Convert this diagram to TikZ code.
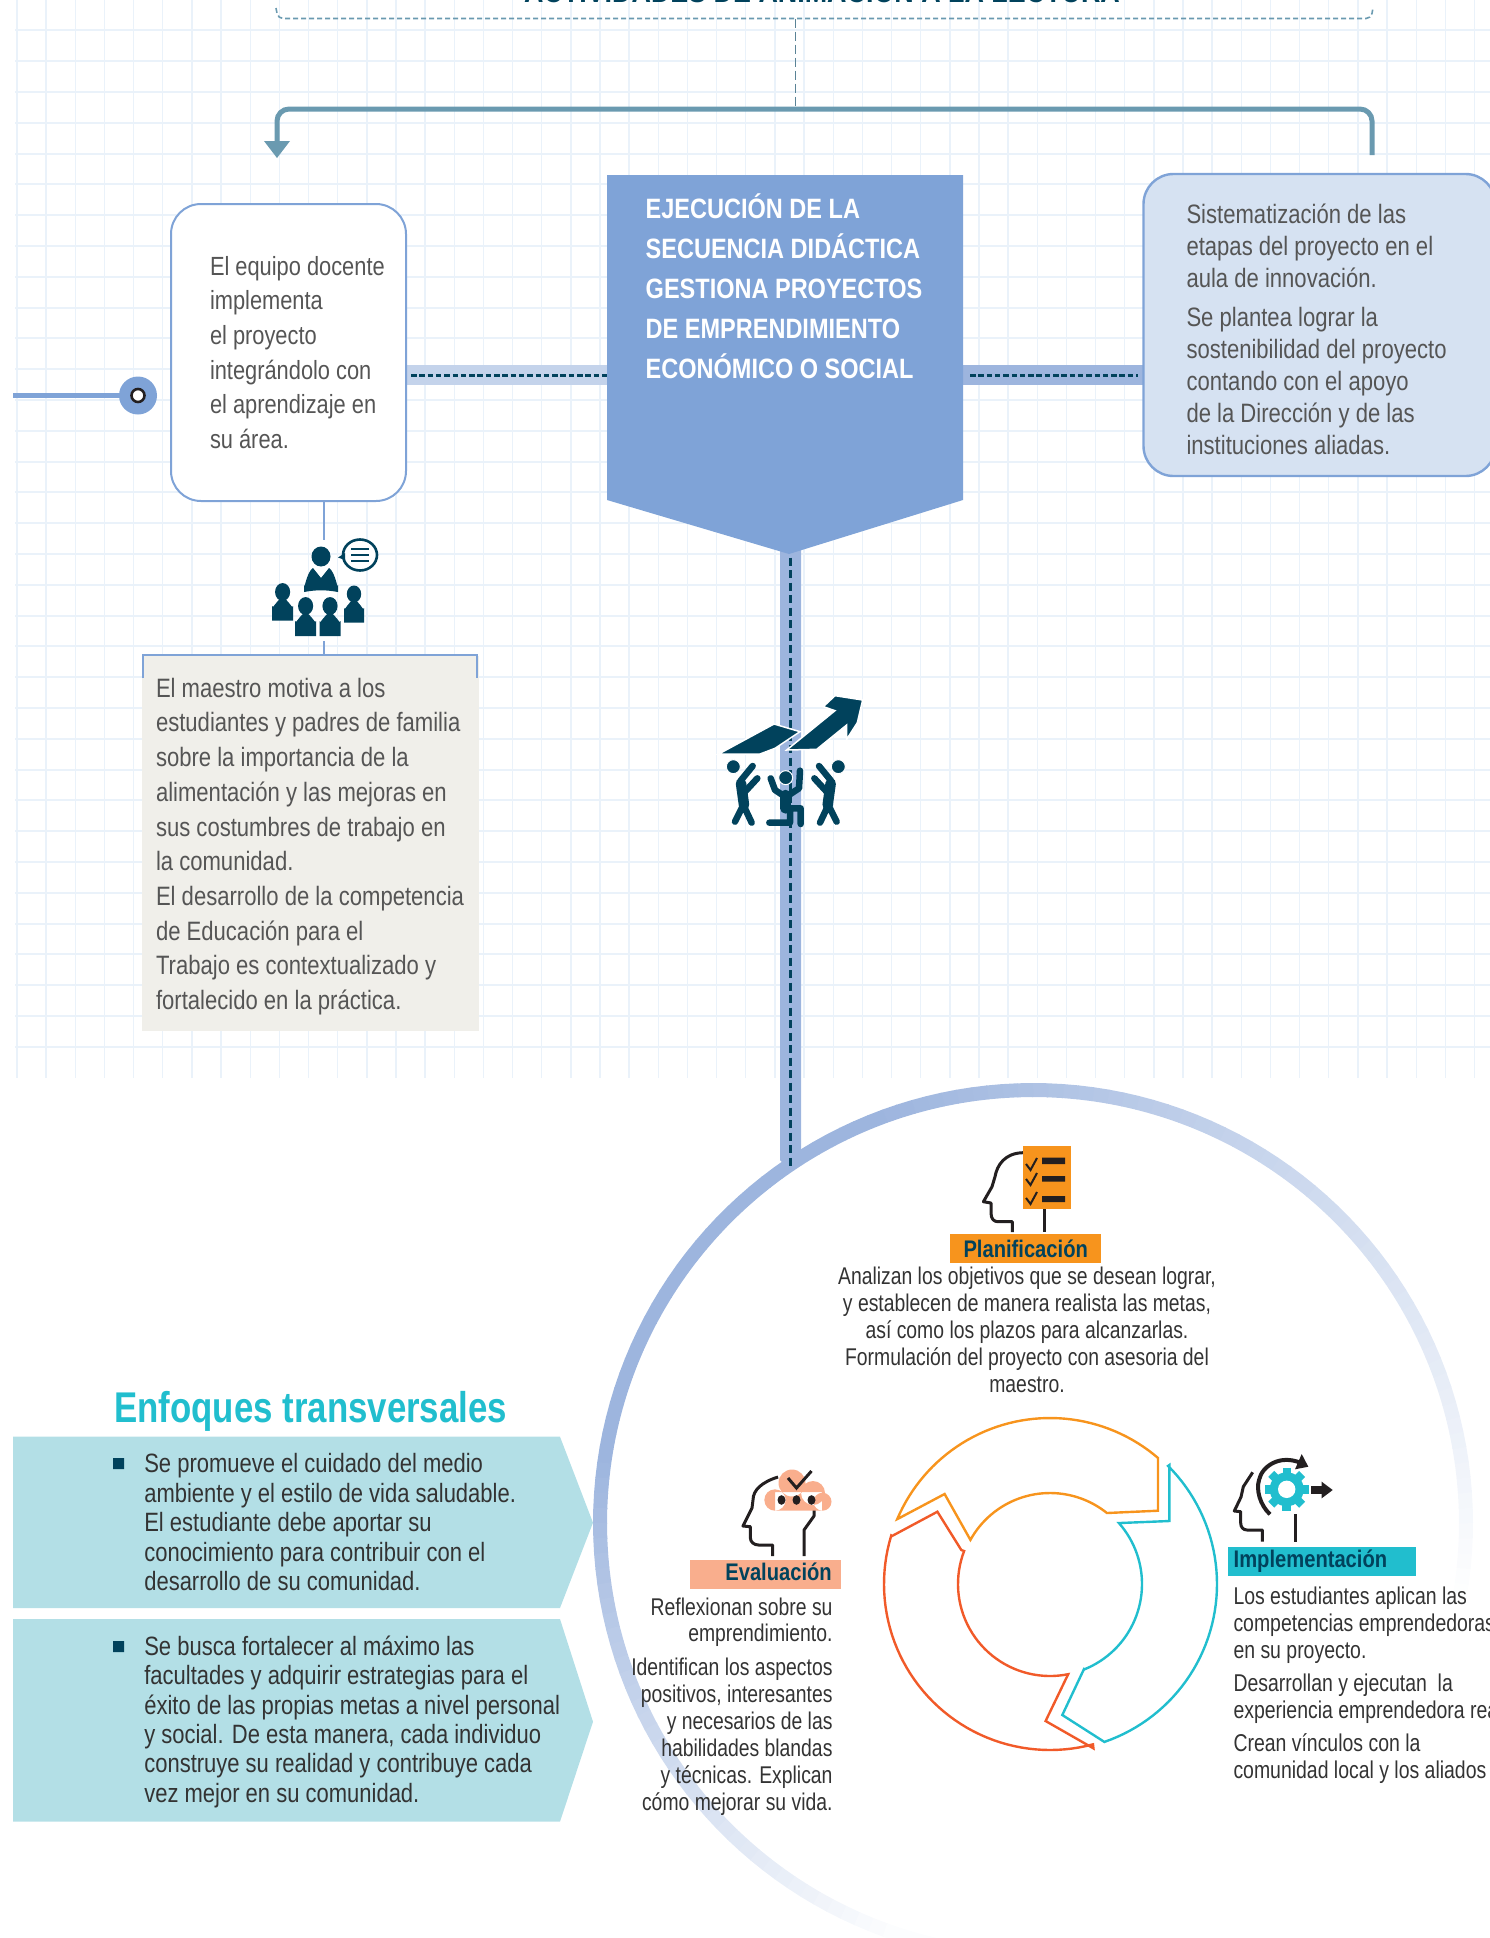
\documentclass[tikz,border=0pt]{standalone}
\usepackage{fontspec}
\usetikzlibrary{calc}
\setmainfont{Liberation Sans}
\newfontfamily\nbody[FakeStretch=0.80]{Liberation Sans}
\newfontfamily\nwide[FakeStretch=0.83]{Liberation Sans}
\newfontfamily\nbold[FakeStretch=0.84]{Liberation Sans}
\newfontfamily\ntitle[FakeStretch=0.81]{Liberation Sans}
\definecolor{gridc}{HTML}{EAF2FA}
\definecolor{boxblue}{HTML}{7FA3D7}
\definecolor{ringc}{HTML}{9DB5DE}
\definecolor{darkteal}{HTML}{01425C}
\definecolor{steel}{HTML}{6A9AB0}
\definecolor{txgray}{HTML}{555555}
\definecolor{txdark}{HTML}{333333}
\definecolor{orng}{HTML}{F7941D}
\definecolor{redor}{HTML}{F15A29}
\definecolor{tealc}{HTML}{21BECE}
\definecolor{salmon}{HTML}{F9AE8D}
\definecolor{pale}{HTML}{B3DFE6}
\definecolor{inkc}{HTML}{231F20}
\definecolor{greybox}{HTML}{F0EFEA}
\newcommand{\fs}[2]{\fontsize{#1}{#2}\selectfont}
\tikzset{
  body/.style={inner sep=0pt,outer sep=0pt},
  pent/.style={fill=pale,draw=none},
  iconline/.style={draw=inkc,line width=3pt,line join=round},
  cyc/.style={line width=2.4pt,line join=miter,fill=none},
  fig/.style={draw=darkteal,line cap=round,line join=round},
  labeltx/.style={inner sep=0pt,font={\nbold\bfseries\fs{24}{26}},text=darkteal}
}
\newcommand{\pers}[5]{% head x, head y, half-width, body top, body bottom
  \fill[darkteal] (#1,#2) ellipse ({#3*0.72} and {#3*0.85});
  \fill[darkteal] ({#1-#3},#5) -- ({#1-#3},{#4+8}) to[out=-90,in=180] (#1,#4) to[out=0,in=-90] ({#1+#3},{#4+8}) -- ({#1+#3},#5) -- cycle;
}
\begin{document}
\begin{tikzpicture}[x=1pt,y=-1pt]
\useasboundingbox (0,0) rectangle (1490,1938);
\clip (0,0) rectangle (1490,1938);
% grid
\foreach \k in {0,...,50}{\draw[gridc,line width=1.4pt] ({17+29.15*\k},0) -- ({17+29.15*\k},1078);}
\foreach \k in {0,...,33}{\draw[gridc,line width=2pt] (15,{30.4+30.8*\k}) -- (1490,{30.4+30.8*\k});}
% ring
\foreach \a in {-12,-10,...,258}{
  \pgfmathsetmacro\m{\a<110 ? (\a+12)/122*100 : (\a<170 ? 100 : max((252-\a)/82*100,3))}
  \draw[color=ringc!\m!white,line width=14pt] ({1033+433*cos(\a)},{1523-433*sin(\a)}) -- ({1033+433*cos(\a+2.1)},{1523-433*sin(\a+2.1)});
}
% top caption
\node[inner sep=0pt,anchor=base,font={\nbold\bfseries\fs{32}{34}},text=darkteal] (toptitle) at (822,2) {ACTIVIDADES DE ANIMACIÓN A LA LECTURA};
\draw[steel,dash pattern=on 5pt off 3pt,line width=1.6pt,rounded corners=5pt] (276,8) -- (278,18.5) -- (1371,18.5) -- (1373,8);
\coordinate (brk) at (795.6,18.5);
\coordinate (fork) at (795.6,109);
\coordinate (forkL) at (277,146);
\coordinate (forkR) at (1372,155);
\draw[steel!85!black,dash pattern=on 9pt off 4pt,line width=1.4pt] (brk) -- (fork);
\draw[steel,line width=5pt,rounded corners=12pt] (forkR) -- (1372,109) -- (277,109) -- (forkL);
\fill[steel] (264,141) -- (290,141) -- (277,158) -- cycle;
% left lead-in
\coordinate (leadL) at (13,395.5);
\node[circle,fill=boxblue,minimum size=38pt,inner sep=0pt] (dot) at (138,395.5) {};
\draw[boxblue,line width=5pt] (leadL) -- (dot);
\node[circle,fill=white,draw=inkc,line width=2.6pt,minimum size=13pt,inner sep=0pt] (dotin) at (138,395.5) {};
% horizontal connectors
\coordinate (c1) at (406,375); \coordinate (c2) at (607,375);
\coordinate (c3) at (963,375); \coordinate (c4) at (1145,375);
\draw[color=ringc!60!white,line width=20pt] (c1) -- (c2);
\draw[color=ringc,line width=20pt] (c3) -- (c4);
\draw[darkteal,line width=3pt,dash pattern=on 5.5pt off 2.8pt,shorten <=5pt] (c1) -- (c2);
\draw[darkteal,line width=3pt,dash pattern=on 5.5pt off 2.8pt,shorten <=7pt,shorten >=7pt] (c3) -- (c4);
% vertical main line
\coordinate (v1) at (790.5,545); \coordinate (v2) at (790.5,1160);
\fill[ringc] (780,545) -- (801,545) -- (801,1160) -- (790.5,1172) -- (780,1160) -- cycle;
\draw[darkteal,line width=2.5pt,dash pattern=on 8pt off 4.5pt] (v1) -- (790.5,1167);
% boxes
\node[draw=boxblue,fill=white,line width=2pt,rounded corners=30pt,minimum width=235pt,minimum height=297pt,inner sep=0pt] (lbox) at (288.5,352.5) {};
\node[draw=boxblue,fill=boxblue!32!white,line width=2.4pt,rounded corners=30pt,minimum width=352pt,minimum height=302pt,inner sep=0pt] (rbox) at (1319.5,325) {};
\fill[boxblue] (607,175) -- (963,175) -- (963,500) -- (789,554) -- (607,500) -- cycle;
% box texts
\node[body,anchor=north west,align=left,text=txgray,font={\nwide\fs{26.3}{34.7}}] (ltext) at (210,256) {El equipo docente\\implementa\\el proyecto\\integrándolo con\\el aprendizaje en\\su área.};
\node[inner sep=0pt,anchor=north west,align=left,text=white,font={\nbold\bfseries\fs{28}{40}}] (ctext) at (645.5,193.5) {EJECUCIÓN DE LA\\SECUENCIA DIDÁCTICA\\GESTIONA PROYECTOS\\DE EMPRENDIMIENTO\\ECONÓMICO O SOCIAL};
\node[body,anchor=north west,align=left,text=txgray,font={\nwide\fs{26.6}{32}}] (rtext) at (1186.5,203.5) {Sistematización de las\\etapas del proyecto en el\\aula de innovación.\\[7pt]Se plantea lograr la\\sostenibilidad del proyecto\\contando con el apoyo\\de la Dirección y de las\\instituciones aliadas.};
% teacher icon
\coordinate (lb1) at (323.5,501); \coordinate (lb2) at (323.5,540);
\coordinate (lb3) at (323.5,641); \coordinate (lb4) at (323.5,655);
\draw[boxblue,line width=2pt] (lb1) -- (lb2);
\draw[boxblue,line width=2pt] (lb3) -- (lb4);
\fill[darkteal] (321,556.5) ellipse (9.5 and 10);
\fill[darkteal] (304,592) -- (304,585) to[out=-90,in=-150] (313,568) -- (321,578) -- (329,568) to[out=-30,in=-90] (338,585) -- (338,592) to[out=170,in=10] (304,592) -- cycle;
\draw[darkteal,fill=white,line width=2.6pt] (360,555) ellipse (17 and 15.5);
\fill[darkteal] (345,553) -- (338,557.5) -- (345,560) -- cycle;
\foreach \yy in {549,555,561}{\draw[darkteal,line width=2.4pt] (351,\yy) -- (369,\yy);}
\pers{282.6}{592}{10.5}{598}{620.5}
\pers{354}{594}{10}{600}{622.5}
\pers{305.6}{606}{10.5}{613}{636}
\pers{330}{606}{10.5}{613}{636}
% grey box
\fill[greybox] (142,656) rectangle (478.6,1031);
\draw[boxblue,line width=2.4pt] (143,678) -- (143,655) -- (477,655) -- (477,678);
\node[body,anchor=north west,align=left,text=txgray,font={\nwide\fs{26.6}{34.7}}] (gtext) at (156,678) {El maestro motiva a los\\estudiantes y padres de familia\\sobre la importancia de la\\alimentación y las mejoras en\\sus costumbres de trabajo en\\la comunidad.\\El desarrollo de la competencia\\de Educación para el\\Trabajo es contextualizado y\\fortalecido en la práctica.};
% lifting icon
\begin{scope}[shift={(720,680)},scale=1/3]
\fill[darkteal,draw=white,line width=1.5pt] (-4,222) -- (162,132) -- (240,155) -- (165,205) -- (120,222) -- cycle;
\fill[darkteal,draw=white,line width=1.5pt] (200,210) -- (345,92) -- (310,80) -- (345,47) -- (428,60) -- (412,128) -- (380,178) -- (380,135) -- (290,208) -- cycle;
\fill[darkteal,draw=white,line width=1pt] (40,260) circle (21);
\draw[fig,line width=10.5pt] (63,310) -- (72,375);
\draw[fig,line width=6.5pt] (70,375) -- (45,425) (70,375) -- (95,428) (62,302) -- (98,258) (75,335) -- (112,295);
\fill[darkteal,draw=white,line width=1pt] (355,260) circle (21);
\draw[fig,line width=10.5pt] (332,310) -- (323,375);
\draw[fig,line width=6.5pt] (325,375) -- (350,425) (325,375) -- (300,428) (333,302) -- (297,258) (320,335) -- (283,295);
\fill[darkteal,draw=white,line width=1pt] (197,293) circle (21);
\draw[fig,line width=10.5pt] (197,345) -- (197,385);
\draw[fig,line width=6.5pt] (152,295) -- (165,330) -- (192,348) (240,272) -- (237,325) -- (202,348) (197,390) -- (210,385) -- (210,428) -- (148,428) (197,385) -- (242,385) -- (242,432);
\end{scope}
% Planificación
\draw[iconline] (1023,1152.7) .. controls (1005,1153) and (997,1165) .. (995,1176.7) -- (992,1186.7) -- (983.4,1201.7) -- (991,1203) -- (991,1213) .. controls (991,1219) and (994,1221.7) .. (998,1221.7) -- (1012.4,1221.7) -- (1012.4,1232);
\fill[orng] (1022.8,1146) rectangle (1071,1209);
\foreach \yy in {1165,1180,1199}{\draw[inkc,line width=2pt] (1026,{\yy-1}) -- (1030.5,{\yy+5}) -- (1037,{\yy-7});}
\fill[inkc] (1042,1157.7) rectangle (1065,1164) (1042,1176) rectangle (1065,1181.7) (1042,1196) rectangle (1065,1202);
\draw[iconline] (1044.3,1209) -- (1044.3,1232);
\node[fill=orng,minimum width=150.7pt,minimum height=28.7pt,inner sep=0pt] (lplan) at (1025.7,1248.4) {};
\node[labeltx] (tplan) at (1025.7,1249) {Planificación};
\node[body,anchor=north,align=center,text=txdark,font={\nbody\fs{24.2}{27}}] (dplan) at (1027,1267) {Analizan los objetivos que se desean lograr,\\y establecen de manera realista las metas,\\así como los plazos para alcanzarlas.\\Formulación del proyecto con asesoria del\\maestro.};
% Evaluación
\draw[iconline] (778,1477) .. controls (762,1482) and (753,1490) .. (753,1500) -- (752,1508) -- (743,1526) -- (750.4,1526.7) -- (750.4,1538) .. controls (750.4,1542) and (754,1545) .. (758.7,1545) -- (772.6,1545) -- (772.6,1556);
\draw[iconline] (814,1510) -- (814,1516) -- (804,1530) -- (804,1556);
\fill[salmon] (792,1483) circle (13.5) (813,1493) circle (12) (775,1500) circle (10.7) (822.5,1501.7) circle (9) (775,1492) rectangle (822,1510.7);
\draw[inkc,line width=3pt] (788,1478) -- (796.5,1488) -- (811.5,1471);
\foreach \xx in {781.5,796.5,811.5}{\fill[inkc] (\xx,1500) ellipse (4 and 4.8);}
\node[fill=salmon,minimum width=151pt,minimum height=29pt,inner sep=0pt] (leva) at (765.5,1574.5) {};
\node[labeltx,anchor=east] (teva) at (832,1572) {Evaluación};
\node[body,anchor=north east,align=right,text=txdark,font={\nbody\fs{24.2}{26.9}}] (deva) at (832.5,1597.5) {Reflexionan sobre su\\emprendimiento.\\[7pt]Identifican los aspectos\\positivos, interesantes\\y necesarios de las\\habilidades blandas\\y técnicas. Explican\\cómo mejorar su vida.};
% Implementación
\draw[iconline] (1252.7,1472.3) -- (1243.3,1486.7) -- (1241,1497) -- (1234.3,1511) -- (1240.7,1511.7) -- (1240.7,1523) .. controls (1240.7,1527) and (1243,1530) .. (1247,1530) -- (1262.3,1530) -- (1262.3,1541.7);
\draw[iconline] (1295,1514) -- (1295,1541.7);
\draw[inkc,line width=4pt] (1270,1514.3) .. controls (1260,1505) and (1256,1490) .. (1259,1480) .. controls (1262,1466) and (1280,1454) .. (1301,1463);
\fill[inkc] (1301.7,1454) -- (1308.3,1466.7) -- (1295,1469.3) -- cycle;
\foreach \r in {0,45,...,315}{\fill[tealc,rotate around={\r:(1286.7,1489.3)}] (1282.5,1467.5) rectangle (1291,1480);}
\fill[tealc] (1286.7,1489.3) circle (17);
\fill[white] (1286.7,1489.3) circle (8.7);
\fill[inkc] (1311,1486) rectangle (1321.7,1494);
\fill[inkc] (1321.7,1481.7) -- (1332.7,1490) -- (1321.7,1498.3) -- cycle;
\node[fill=tealc,minimum width=188pt,minimum height=29pt,inner sep=0pt] (limp) at (1322,1561.2) {};
\node[labeltx,anchor=west] (timp) at (1233.5,1561.5) {Implementación};
\node[body,anchor=north west,align=left,text=txdark,font={\nbody\fs{24.3}{26.9}}] (dimp) at (1233.5,1586.7) {Los estudiantes aplican las\\competencias emprendedoras\\en su proyecto.\\[6.5pt]Desarrollan y ejecutan\ \ la\\experiencia emprendedora real\\[6.5pt]Crean vínculos con la\\comunidad local y los aliados};
% Cycle arrows
\draw[orng,cyc] (897.5,1519) -- plot[domain=157:49.4,samples=50] ({1050+166*cos(\x)},{1584-166*sin(\x)}) -- (1158,1510.7) -- (1107,1513) -- plot[domain=51:151,samples=40] ({1050+91*cos(\x)},{1584-91*sin(\x)}) -- (944.6,1494) -- cycle;
\draw[tealc,cyc] (1169.4,1465) -- plot[domain=45:-71,samples=50] ({1050+167*cos(\x)},{1584-167*sin(\x)}) -- (1062.3,1715) -- (1084,1669) -- plot[domain=-68:41.5,samples=40] ({1050+92*cos(\x)},{1584-92*sin(\x)}) -- (1169.4,1521) -- cycle;
\draw[redor,cyc] (892,1536) -- (937.4,1511.7) -- (961.3,1550) -- plot[domain=159:281.4,samples=40] ({1050+92*cos(\x)},{1584-92*sin(\x)}) -- (1045.6,1721) -- (1093.4,1748.3) -- plot[domain=285:163,samples=50] ({1050+166*cos(\x)},{1584-166*sin(\x)}) -- cycle;
% Enfoques
\node[inner sep=0pt,font={\ntitle\bfseries\fs{43}{46}},text=tealc,anchor=west] (tenf) at (114,1411) {Enfoques transversales};
\fill[pent] (13,1436.7) -- (560,1436.7) -- (593,1522.7) -- (560,1608) -- (13,1608) -- cycle;
\fill[pent] (13,1619) -- (560,1619) -- (593,1721.7) -- (560,1821.7) -- (13,1821.7) -- cycle;
\fill[darkteal] (113,1458) rectangle (124,1469) (113,1641) rectangle (124,1652);
\node[body,anchor=north west,align=left,text=txdark,font={\nwide\fs{26.5}{29.4}}] (p1) at (144.3,1453.7) {Se promueve el cuidado del medio\\ambiente y el estilo de vida saludable.\\El estudiante debe aportar su\\conocimiento para contribuir con el\\desarrollo de su comunidad.};
\node[body,anchor=north west,align=left,text=txdark,font={\nwide\fs{26.5}{29.4}}] (p2) at (144.3,1635.7) {Se busca fortalecer al máximo las\\facultades y adquirir estrategias para el\\éxito de las propias metas a nivel personal\\y social. De esta manera, cada individuo\\construye su realidad y contribuye cada\\vez mejor en su comunidad.};
\end{tikzpicture}
\end{document}
